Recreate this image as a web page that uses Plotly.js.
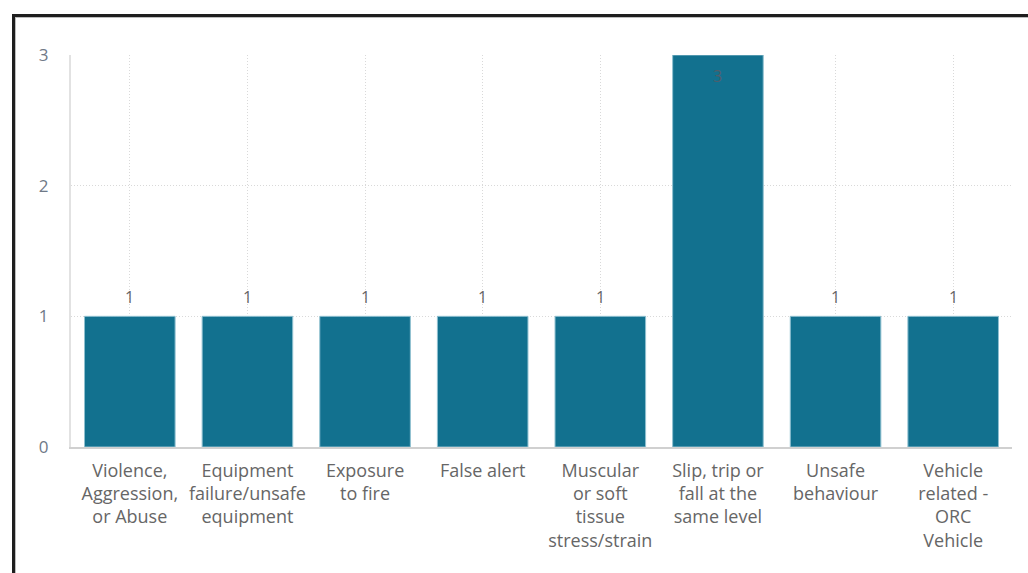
<!DOCTYPE html>
<html>
<head>
<meta charset="utf-8">
<script src="https://cdn.plot.ly/plotly-3.0.1.min.js"></script>
<style>
  html, body { margin: 0; padding: 0; background: #ffffff; overflow: hidden; }
  #chart { position: absolute; left: 0; top: 0; width: 1028px; height: 573px; }
  #frame {
    position: absolute; left: 12px; top: 14px; width: 1030px; height: 570px;
    border-left: 3px solid #1e1e1e; border-top: 3px solid #1e1e1e;
    box-shadow: inset 1px 1px 0 #bdbdbd; pointer-events: none;
  }
</style>
</head>
<body>
<div id="chart"></div>
<div id="frame"></div>
<script>
// Incident counts by category
const categories = [
  'Violence, Aggression, or Abuse',
  'Equipment failure/unsafe equipment',
  'Exposure to fire',
  'False alert',
  'Muscular or soft tissue stress/strain',
  'Slip, trip or fall at the same level',
  'Unsafe behaviour',
  'Vehicle related - ORC Vehicle'
];
const tickLabels = [
  'Violence,<br>Aggression,<br>or Abuse',
  'Equipment<br>failure/unsafe<br>equipment',
  'Exposure<br>to fire',
  'False alert',
  'Muscular<br>or soft<br>tissue<br>stress/strain',
  'Slip, trip or<br>fall at the<br>same level',
  'Unsafe<br>behaviour',
  'Vehicle<br>related -<br>ORC<br>Vehicle'
];
const counts = [1, 1, 1, 1, 1, 3, 1, 1];
const yTicks = [0, 1, 2, 3];

const FONT = '"Open Sans", "Noto Sans", sans-serif';
const maxCount = Math.max(...counts);

// Value labels: above each bar, except the tallest one which sits inside its top
const valueLabels = categories.map((c, i) => {
  const inside = counts[i] === maxCount;
  return {
    x: c, y: counts[i], xref: 'x', yref: 'y',
    text: String(counts[i]), showarrow: false,
    yanchor: inside ? 'top' : 'bottom',
    yshift: inside ? -8 : 6,
    font: { family: FONT, size: 16, color: inside ? '#4f5e6b' : '#666666' }
  };
});

const trace = {
  type: 'bar',
  x: categories,
  y: counts,
  marker: { color: '#12718f', line: { color: '#8fc0d0', width: 1 } },
  hoverinfo: 'x+y'
};

const layout = {
  width: 1028, height: 573,
  margin: { l: 71, r: 16, t: 55, b: 126, pad: 0 },
  paper_bgcolor: '#ffffff', plot_bgcolor: '#ffffff',
  bargap: 0.23,
  showlegend: false,
  font: { family: FONT, color: '#666666' },
  xaxis: {
    type: 'category',
    tickvals: categories, ticktext: tickLabels,
    tickfont: { family: FONT, size: 18, color: '#666666' },
    tickangle: 0,
    showgrid: true, gridcolor: '#d9d9d9', griddash: '1px,2px', gridwidth: 1,
    showline: true, linecolor: '#d0d0d0', linewidth: 2,
    ticks: '', ticklabelstandoff: 6,
    automargin: false, fixedrange: true
  },
  yaxis: {
    range: [0, 3],
    tickvals: yTicks,
    tickfont: { family: FONT, size: 17, color: '#6f7987' },
    showgrid: true, gridcolor: '#d9d9d9', griddash: '1px,2px', gridwidth: 1,
    zeroline: false,
    showline: true, linecolor: '#e2e2e2', linewidth: 2,
    ticks: '', ticklabelstandoff: 17,
    automargin: false, fixedrange: true
  },
  annotations: valueLabels
};

Plotly.newPlot('chart', [trace], layout, { displayModeBar: false, staticPlot: true });
</script>
</body>
</html>
